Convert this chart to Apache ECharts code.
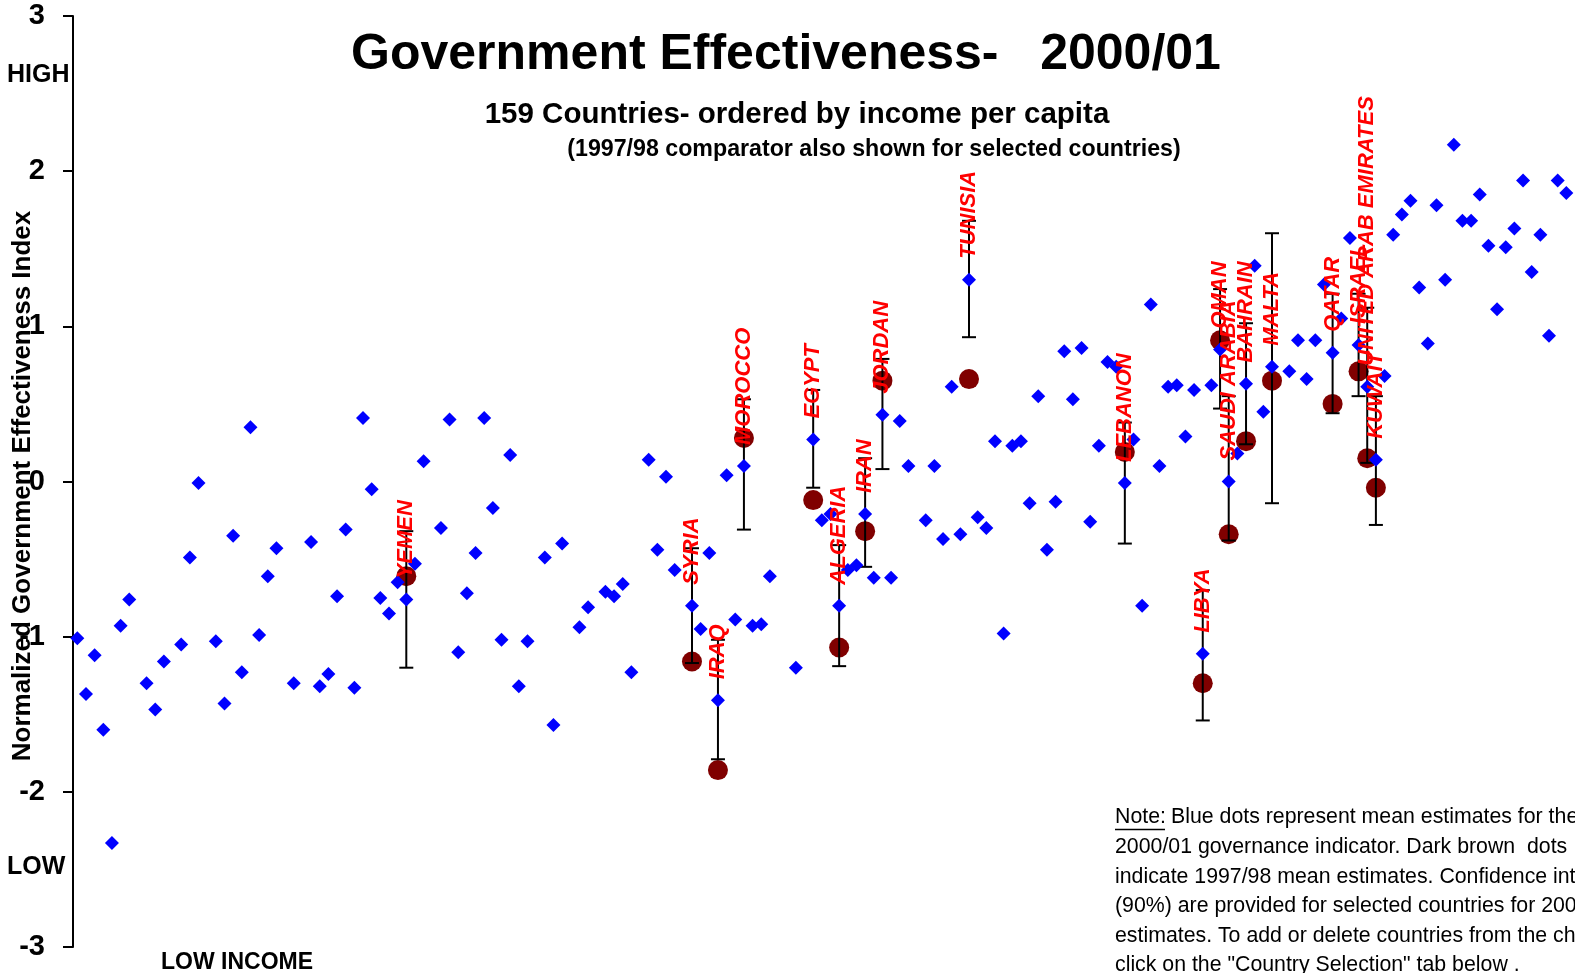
<!DOCTYPE html>
<html>
<head>
<meta charset="utf-8">
<title>Government Effectiveness 2000/01</title>
<script src="https://cdn.jsdelivr.net/npm/echarts/dist/echarts.min.js"></script>
<style>
  html, body { margin: 0; padding: 0; background: #ffffff; }
  #chart { width: 1575px; height: 973px; }
</style>
</head>
<body>
<div id="chart"></div>
<script>
// ---- Data ----
// 2000/01 governance estimate for each income-ordered slot (null = empty slot)
const govIndex2001 = [
  -1.01, -1.37, -1.12, -1.60, -2.33, -0.93, -0.76, null, -1.30, -1.47,
  -1.16, null, -1.05, -0.49, -0.01, null, -1.03, -1.43, -0.35, -1.23,
  0.35, -0.99, -0.61, -0.43, null, -1.30, null, -0.39, -1.32, -1.24,
  -0.74, -0.31, -1.33, 0.41, -0.05, -0.75, -0.85, -0.65, -0.76, -0.53,
  0.13, null, -0.30, 0.40, -1.10, -0.72, -0.46, 0.41, -0.17, -1.02,
  0.17, -1.32, -1.03, null, -0.49, -1.57, -0.40, null, -0.94, -0.81,
  null, -0.71, -0.74, -0.66, -1.23, null, 0.14, -0.44, 0.03, -0.57,
  null, -0.80, -0.95, -0.46, -1.41, 0.04, -0.89, 0.10, -0.93, -0.92,
  -0.61, null, null, -1.20, null, 0.27, -0.25, -0.21, -0.80, -0.57,
  -0.54, -0.21, -0.62, 0.43, -0.62, 0.39, 0.10, null, -0.25, 0.10,
  -0.37, 0.61, -0.34, 1.30, -0.23, -0.30, 0.26, -0.98, 0.23, 0.26,
  -0.14, 0.55, -0.44, -0.13, 0.84, 0.53, 0.86, -0.26, 0.23, 0.77,
  0.74, -0.01, 0.27, -0.80, 1.14, 0.10, 0.61, 0.62, 0.29, 0.59,
  -1.11, 0.62, 0.85, 0.00, 0.18, 0.63, 1.39, 0.45, 0.74, null,
  0.71, 0.91, 0.66, 0.91, 1.27, 0.83, 1.05, 1.57, 0.88, 0.61,
  0.14, 0.68, 1.59, 1.72, 1.81, 1.25, 0.89, 1.78, 1.30, 2.17,
  1.68, 1.68, 1.85, 1.52, 1.11, 1.51, 1.63, 1.94, 1.35, 1.59,
  0.94, 1.94, 1.86
];

// Selected countries
const selNames = ['YEMEN', 'SYRIA', 'IRAQ', 'MOROCCO', 'EGYPT', 'ALGERIA', 'IRAN', 'JORDAN',
  'TUNISIA', 'LEBANON', 'LIBYA', 'OMAN', 'SAUDI ARABIA', 'BAHRAIN', 'MALTA', 'QATAR',
  'ISRAEL', 'UNITED ARAB EMIRATES', 'KUWAIT'];
const selSlots = [38, 71, 74, 77, 85, 88, 91, 93, 103, 121, 130, 132, 133, 135, 138, 145, 148, 149, 150];
const selIndex1998 = [-0.61, -1.16, -1.86, 0.28, -0.12, -1.07, -0.32, 0.65, 0.66, 0.19,
  -1.30, 0.91, -0.34, 0.26, 0.65, 0.50, 0.71, 0.15, -0.04];
const selCILow = [-1.20, -1.17, -1.79, -0.31, -0.04, -1.19, -0.55, 0.08, 0.93, -0.40,
  -1.54, 0.47, -0.38, 0.24, -0.14, 0.44, 0.55, 0.12, -0.28];
const selCIHigh = [-0.32, -0.43, -1.02, 0.53, 0.59, -0.41, 0.15, 0.79, 1.68, 0.38,
  -0.70, 1.24, 0.55, 1.02, 1.60, 1.21, 1.21, 1.12, 0.55];

const yTicks = [-3, -2, -1, 0, 1, 2, 3];

// ---- Build series data ----
const selMap = {};
selSlots.forEach((s, k) => { selMap[s] = selNames[k]; });

const blueData = [];
govIndex2001.forEach((v, i) => {
  if (v === null) return;
  if (selMap[i] !== undefined) {
    blueData.push({ value: [i, v], name: selMap[i], label: { show: true } });
  } else {
    blueData.push({ value: [i, v] });
  }
});
const brownData = selSlots.map((s, k) => [s, selIndex1998[k]]);
const ciData = selSlots.map((s, k) => [s, selCILow[k], selCIHigh[k]]);

const FONT = '"Liberation Sans", Arial, Helvetica, sans-serif';

function renderCI(params, api) {
  const x = api.value(0);
  const top = api.coord([x, api.value(2)]);
  const bot = api.coord([x, api.value(1)]);
  const hw = 7;
  const st = { stroke: '#000000', lineWidth: 2 };
  return {
    type: 'group',
    children: [
      { type: 'line', shape: { x1: top[0], y1: top[1], x2: bot[0], y2: bot[1] }, style: st },
      { type: 'line', shape: { x1: top[0] - hw, y1: top[1], x2: top[0] + hw, y2: top[1] }, style: st },
      { type: 'line', shape: { x1: bot[0] - hw, y1: bot[1], x2: bot[0] + hw, y2: bot[1] }, style: st }
    ]
  };
}

function txt(text, x, y, size, weight, align, extra) {
  return Object.assign({
    type: 'text',
    x: x, y: y,
    style: {
      text: text,
      fill: '#000000',
      fontFamily: FONT,
      fontSize: size,
      fontWeight: weight,
      align: align, verticalAlign: 'middle',
      textAlign: align, textVerticalAlign: 'middle'
    },
    z: 10
  }, extra || {});
}

const noteLines = [
  'Blue dots represent mean estimates for the',
  '2000/01 governance indicator. Dark brown  dots',
  'indicate 1997/98 mean estimates. Confidence intervals',
  '(90%) are provided for selected countries for 2000/01',
  'estimates. To add or delete countries from the chart,',
  'click on the "Country Selection" tab below .'
];
const noteY = [817, 847, 877, 906.5, 936, 965.5];

const graphics = [
  txt('Government Effectiveness-   2000/01', 786, 55, 50, 'bold', 'center'),
  txt('159 Countries- ordered by income per capita', 797, 114.5, 29.5, 'bold', 'center'),
  txt('(1997/98 comparator also shown for selected countries)', 874, 150, 23.2, 'bold', 'center'),
  txt('HIGH', 7, 75, 25, 'bold', 'left'),
  txt('LOW', 7, 867.5, 25, 'bold', 'left'),
  txt('LOW INCOME', 237, 963, 23, 'bold', 'center'),
  txt('Normalized Government Effectiveness Index', 23, 486, 26, 'bold', 'center', { rotation: Math.PI / 2 }),
  txt('Note:', 1115, noteY[0], 21.3, 'normal', 'left'),
  {
    type: 'line', z: 10,
    shape: { x1: 1115, y1: 829.5, x2: 1165, y2: 829.5 },
    style: { stroke: '#000000', lineWidth: 1.5 }
  }
];
noteLines.forEach((line, k) => {
  graphics.push(txt(line, k === 0 ? 1171 : 1115, noteY[k], 21.3, 'normal', 'left'));
});

const chart = echarts.init(document.getElementById('chart'), null, { renderer: 'canvas' });
chart.setOption({
  animation: false,
  backgroundColor: '#ffffff',
  grid: { left: 73, right: 0, top: 16, bottom: 26, containLabel: false, outerBoundsMode: 'none' },
  xAxis: {
    type: 'value', min: -0.5, max: 173, show: false
  },
  yAxis: {
    type: 'value', min: yTicks[0], max: yTicks[yTicks.length - 1], interval: 1,
    splitLine: { show: false },
    axisLine: { show: true, onZero: false, lineStyle: { color: '#000000', width: 2 } },
    axisTick: { show: true, inside: false, length: 10, lineStyle: { color: '#000000', width: 2 } },
    axisLabel: { color: '#000000', fontSize: 29, fontWeight: 'bold', fontFamily: FONT, margin: 28 }
  },
  graphic: graphics,
  series: [
    {
      name: '1997/98',
      type: 'scatter',
      data: brownData,
      symbol: 'circle',
      symbolSize: 20,
      itemStyle: { color: '#800000', opacity: 1 },
      z: 2,
      silent: true
    },
    {
      name: 'CI',
      type: 'custom',
      data: ciData,
      renderItem: renderCI,
      encode: { x: 0, y: [1, 2] },
      z: 3,
      silent: true
    },
    {
      name: '2000/01',
      type: 'scatter',
      data: blueData,
      symbol: 'diamond',
      symbolSize: 14,
      itemStyle: { color: '#0000FF', opacity: 1 },
      z: 4,
      silent: true,
      label: {
        show: false,
        formatter: '{b}',
        position: 'top',
        distance: 14,
        rotate: 90,
        align: 'left',
        verticalAlign: 'middle',
        color: '#FF0000',
        fontFamily: FONT,
        fontSize: 22,
        fontWeight: 'bold',
        fontStyle: 'italic'
      },
      labelLayout: { hideOverlap: false }
    }
  ]
});
</script>
</body>
</html>
